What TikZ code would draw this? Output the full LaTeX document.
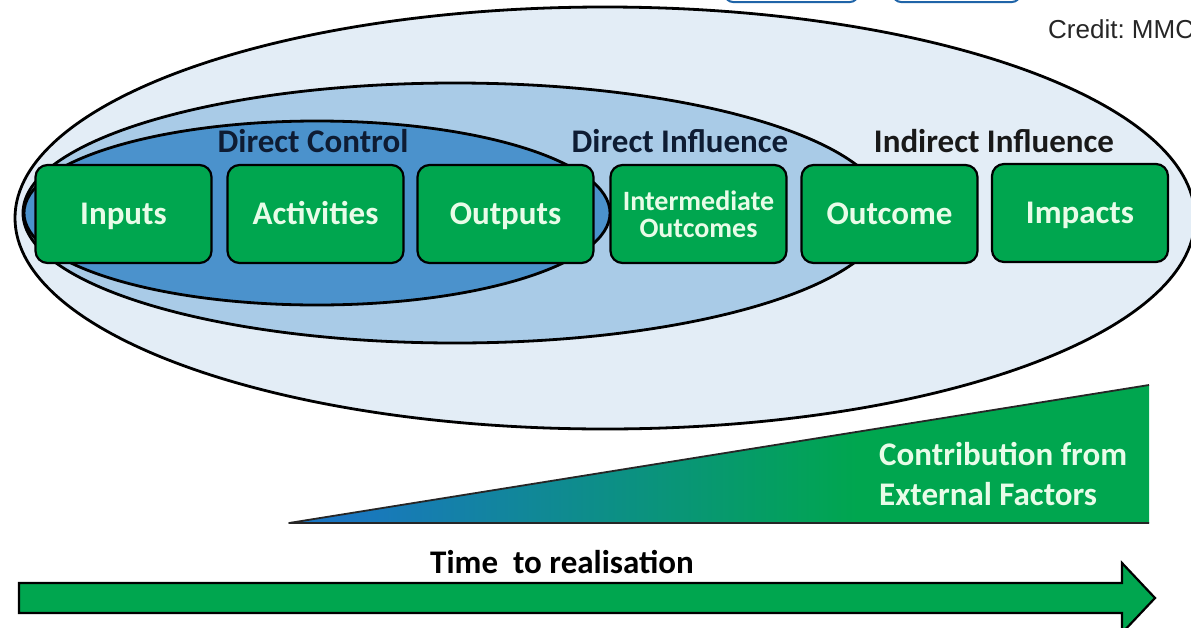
\documentclass[tikz,border=0pt]{standalone}
\usepackage{fontspec}
\setmainfont{Carlito}
\newfontfamily\creditfont{Liberation Sans}
\frenchspacing
\definecolor{outerfill}{HTML}{E3EDF6}
\definecolor{midfill}{HTML}{A9CBE7}
\definecolor{innerfill}{HTML}{4B92CC}
\definecolor{boxgreen}{HTML}{00A64F}
\definecolor{boxtext}{HTML}{E8FCE8}
\definecolor{headtext}{HTML}{0E1C33}
\definecolor{triblue}{HTML}{1A76C2}
\definecolor{topblue}{HTML}{1F64A8}
\pgfdeclarehorizontalshading{trishade}{100bp}{color(0bp)=(triblue); color(28bp)=(triblue); color(58bp)=(boxgreen); color(100bp)=(boxgreen)}
\begin{document}
\begin{tikzpicture}[x=1pt,y=-1pt,
  ring/.style={line width=2.8pt, draw=black},
  stagebox/.style={draw=black, line width=2.2pt, fill=boxgreen, rounded corners=12pt,
    minimum width=176pt, minimum height=98pt, inner sep=0pt, text=boxtext,
    font=\bfseries\fontsize{33}{36}\selectfont, text height=21pt, text depth=0pt},
  twoline/.style={stagebox, font=\bfseries\fontsize{28}{27}\selectfont, align=center,
    text height=, text depth=},
  head/.style={anchor=base, inner sep=0pt, text=headtext, font=\bfseries\fontsize{33}{36}\selectfont},
  whitetext/.style={anchor=base west, inner sep=0pt, text=boxtext, font=\bfseries\fontsize{33}{36}\selectfont},
  topbox/.style={draw=topblue, line width=2pt, fill=white, rounded corners=8pt}
]
\useasboundingbox (0,0) rectangle (1191,627);
% cropped boxes at the top edge
\draw[topbox] (725,-40) rectangle (858,2);
\draw[topbox] (893,-40) rectangle (1020,2);
% credit
\node[anchor=base west, inner sep=0pt, font=\creditfont\fontsize{26}{30}\selectfont, text=black!85] (credit) at (1048,38) {Credit: MMC};
% nested ellipses
\draw[ring, fill=outerfill] (605,218) ellipse [x radius=590, y radius=211];
\draw[ring, fill=midfill] (455,213) ellipse [x radius=432, y radius=130];
\draw[ring, fill=innerfill] (317,213) ellipse [x radius=293, y radius=92];
% headings
\node[head] (dc) at (313,152) {Direct Control};
\node[head] (di) at (680,152) {Direct Influence};
\node[head, text=black!90] (ii) at (994,152) {Indirect Influence};
% stages
\node[stagebox] (inputs) at (123.5,214) {Inputs};
\node[stagebox] (activities) at (315.5,214) {Activities};
\node[stagebox] (outputs) at (505.5,214) {Outputs};
\node[twoline] (intermediate) at (698.5,214) {Intermediate\\Outcomes};
\node[stagebox] (outcome) at (889.5,214) {Outcome};
\node[stagebox] (impacts) at (1080,213) {Impacts};
% external factors wedge
\shade[shading=trishade] (289,523) -- (1149,523) -- (1149,385) -- cycle;
\draw[line width=1.8pt, black!85, line join=round] (1149,523) -- (289,523) -- (1149,385);
\node[whitetext] (contrib) at (879,465) {Contribution from};
\node[whitetext] (external) at (879,505) {External Factors};
% time arrow
\draw[line width=2.2pt, fill=boxgreen, line join=miter] (19,583) -- (1122,583) -- (1122,563) -- (1155,598) -- (1122,633) -- (1122,613) -- (19,613) -- cycle;
\node[head, text=black] (time) at (562,573) {Time\ \ to realisation};
\end{tikzpicture}
\end{document}
